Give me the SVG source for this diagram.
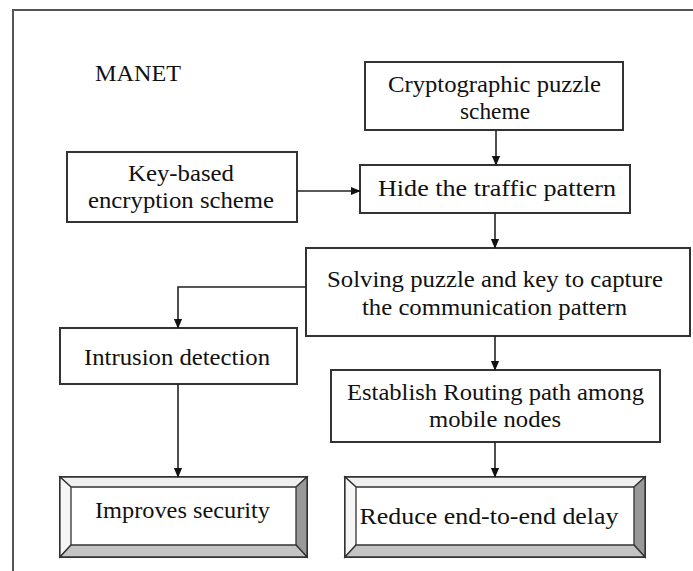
<svg xmlns="http://www.w3.org/2000/svg" width="693" height="571" viewBox="0 0 693 571">
<style>
.box{fill:#fff;stroke:#333;stroke-width:2}
.t{font-family:"Liberation Serif","Times New Roman",serif;font-size:24px;fill:#111;text-anchor:middle}
.c{fill:none;stroke:#222;stroke-width:1.6}
.frame{fill:none;stroke:#555;stroke-width:2}
.bl{fill:#f6f6f6;stroke:#333;stroke-width:1.3}
.bt{fill:#f0f0f0;stroke:#333;stroke-width:1.3}
.br{fill:#999;stroke:#333;stroke-width:1.3}
.bb{fill:#c4c4c4;stroke:#333;stroke-width:1.3}
</style>
<defs>
<marker id="ah" markerWidth="10" markerHeight="12" refX="11" refY="5" orient="auto" markerUnits="userSpaceOnUse" viewBox="0 0 12 10">
<path d="M0,0 L12,5 L0,10 z" fill="#111"/>
</marker>
</defs>
<rect width="693" height="571" fill="#fff"/>
<path class="frame" d="M13,571 L13,10 L693,10"/>
<text class="t" x="95" y="81" style="text-anchor:start" textLength="86" lengthAdjust="spacingAndGlyphs">MANET</text>

<g id="crypto">
<rect class="box" x="365" y="62" width="258" height="68"/>
<text class="t" x="494.5" y="92" textLength="213" lengthAdjust="spacingAndGlyphs">Cryptographic puzzle</text>
<text class="t" x="495" y="119" textLength="70" lengthAdjust="spacingAndGlyphs">scheme</text>
</g>
<g id="keybased">
<rect class="box" x="67" y="152" width="230" height="70"/>
<text class="t" x="181" y="181" textLength="106" lengthAdjust="spacingAndGlyphs">Key-based</text>
<text class="t" x="181" y="208" textLength="186" lengthAdjust="spacingAndGlyphs">encryption scheme</text>
</g>
<g id="hide">
<rect class="box" x="360" y="165" width="270" height="48"/>
<text class="t" x="497" y="196" textLength="238" lengthAdjust="spacingAndGlyphs">Hide the traffic pattern</text>
</g>
<g id="solving">
<rect class="box" x="306" y="248" width="384" height="88"/>
<text class="t" x="495" y="287" textLength="336" lengthAdjust="spacingAndGlyphs">Solving puzzle and key to capture</text>
<text class="t" x="494.5" y="315" textLength="265" lengthAdjust="spacingAndGlyphs">the communication pattern</text>
</g>
<g id="intrusion">
<rect class="box" x="60" y="328" width="237" height="56"/>
<text class="t" x="177" y="365" textLength="186" lengthAdjust="spacingAndGlyphs">Intrusion detection</text>
</g>
<g id="establish">
<rect class="box" x="331" y="370" width="329" height="72"/>
<text class="t" x="495.5" y="400" textLength="297" lengthAdjust="spacingAndGlyphs">Establish Routing path among</text>
<text class="t" x="495" y="427" textLength="132" lengthAdjust="spacingAndGlyphs">mobile nodes</text>
</g>
<g id="improves">
<rect class="box" x="60" y="477" width="247" height="80"/>
<polygon class="bt" points="60,477 307,477 296,487 71,487"/>
<polygon class="bl" points="60,477 71,487 71,545 60,557"/>
<polygon class="br" points="307,477 307,557 296,545 296,487"/>
<polygon class="bb" points="60,557 71,545 296,545 307,557"/>
<text class="t" x="182.5" y="518" textLength="175" lengthAdjust="spacingAndGlyphs">Improves security</text>
</g>
<g id="reduce">
<rect class="box" x="345" y="477" width="300" height="80"/>
<polygon class="bt" points="345,477 645,477 634,487 356,487"/>
<polygon class="bl" points="345,477 356,487 356,545 345,557"/>
<polygon class="br" points="645,477 645,557 634,545 634,487"/>
<polygon class="bb" points="345,557 356,545 634,545 645,557"/>
<text class="t" x="489" y="524" textLength="259" lengthAdjust="spacingAndGlyphs">Reduce end-to-end delay</text>
</g>

<g id="connectors">
<path class="c" d="M496,130 L496,165" marker-end="url(#ah)"/>
<path class="c" d="M297,191 L360,191" marker-end="url(#ah)"/>
<path class="c" d="M495,213 L495,248" marker-end="url(#ah)"/>
<path class="c" d="M306,287 L178,287 L178,328" marker-end="url(#ah)"/>
<path class="c" d="M495,336 L495,370" marker-end="url(#ah)"/>
<path class="c" d="M178,384 L178,477" marker-end="url(#ah)"/>
<path class="c" d="M495,442 L495,477" marker-end="url(#ah)"/>
</g>
</svg>
